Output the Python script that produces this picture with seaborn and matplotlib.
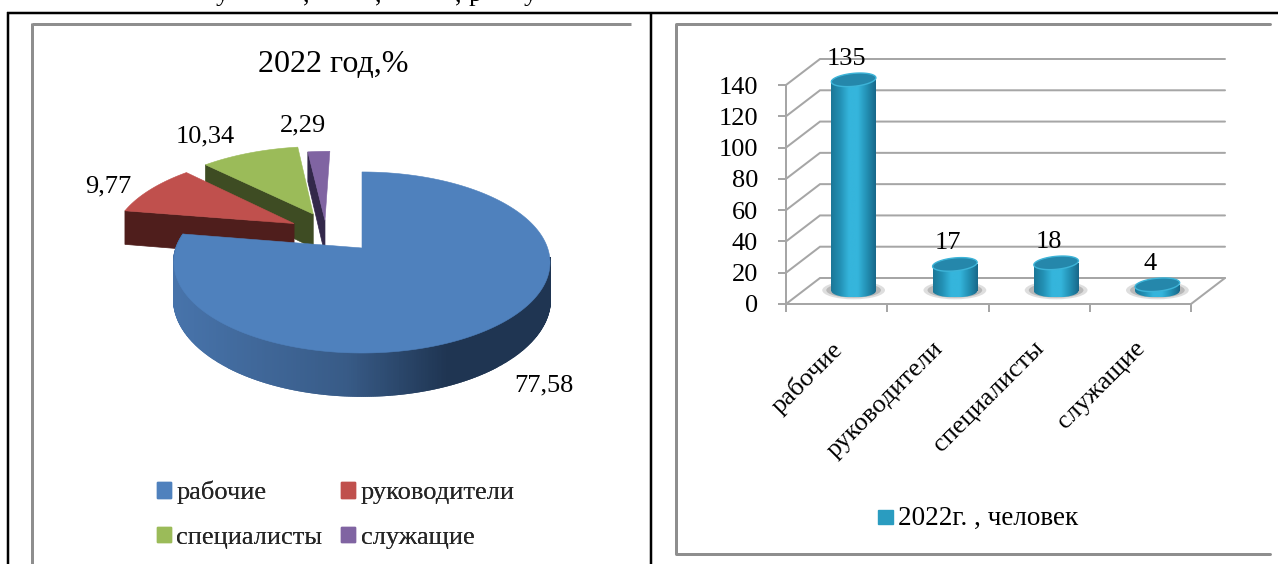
import numpy as np
import pandas as pd
import matplotlib
matplotlib.use("Agg")
import matplotlib.pyplot as plt
from matplotlib.colors import LinearSegmentedColormap
from matplotlib.patches import Ellipse, Rectangle
from matplotlib.transforms import ScaledTranslation
import seaborn as sns

# ---- data ----
categories = ["рабочие", "руководители", "специалисты", "служащие"]
share_pct = [77.58, 9.77, 10.34, 2.29]
share_labels = ["77,58", "9,77", "10,34", "2,29"]
headcount = [135, 17, 18, 4]
y_ticks = [0, 20, 40, 60, 80, 100, 120, 140]
pie_title = "2022 год,%"
bar_legend = "2022г. , человек"

# ---- style ----
sns.set_theme(style="white")
plt.rcParams["font.family"] = ["Liberation Serif", "DejaVu Serif"]
W, H = 1278, 564
fig = plt.figure(figsize=(W / 100, H / 100), dpi=100, facecolor="white")
px = 0.72  # points per pixel


def rect(x0, x1, ytop, ybot):
    return [x0 / W, 1 - ybot / H, (x1 - x0) / W, (ybot - ytop) / H]


canvas = fig.add_axes([0, 0, 1, 1], zorder=0)
canvas.set_xlim(0, W)
canvas.set_ylim(H, 0)
canvas.set_axis_off()

# ---- page frames ----
BLACK_LW, FRAME_LW = 2.5 * px, 3 * px
FRAME = "#8E8E8E"
canvas.plot([7, W], [12.5, 12.5], color="black", lw=BLACK_LW, solid_capstyle="butt")
canvas.plot([7.5, 7.5], [12, H], color="black", lw=BLACK_LW, solid_capstyle="butt")
canvas.plot([651, 651], [12, H], color="black", lw=BLACK_LW, solid_capstyle="butt")
canvas.plot([32, 631], [24, 24], color=FRAME, lw=FRAME_LW, solid_capstyle="butt")
canvas.plot([32, 32], [23, H], color=FRAME, lw=FRAME_LW, solid_capstyle="butt")
canvas.plot([1270, 676, 676, 1270], [24, 24, 554, 554], color=FRAME, lw=FRAME_LW)
# clipped line of the page text above the table
for x, ch in [(222, "у"), (306, ","), (378, ","), (458, ","), (475, "р"), (530, "у")]:
    canvas.text(x, 1, ch, fontsize=19, ha="center", va="baseline", color="black", clip_on=True)

# ---- exploded 3-D pie, projected from the values ----
CX, CY, A, B, K, D = 362, 248, 185.6, 88.2, 0.16, 36
pie_top = ["#4F81BD", "#C0504D", "#9BBB59", "#8064A2"]
pie_wall = [None, "#4F1E1C", "#3E4C23", "#33284A"]
explode = [(0, 0), (-0.383, 0.29), (-0.28, 0.41), (-0.21, 0.33)]
wall_cmap = LinearSegmentedColormap.from_list(
    "w", [(0, "#4773AA"), (0.45, "#385B87"), (0.72, "#1F3552"), (1, "#1F3552")]
)


def project(u, v, depth=0.0):
    s = 1 / (1 + K * v)
    return CX + A * u * s, CY - B * v * s + depth * D * s


fracs = np.array(share_pct) / np.sum(share_pct) * 2 * np.pi
starts = np.concatenate([[0], np.cumsum(fracs)[:-1]])

for i in [3, 2, 1, 0]:
    t0, t1 = starts[i], starts[i] + fracs[i]
    du, dv = explode[i]
    t = np.linspace(t0, t1, max(int(np.degrees(t1 - t0)) * 2, 8))
    u, v = np.sin(t) + du, np.cos(t) + dv
    if i == 0:
        for a, b, c, d in zip(u[:-1], v[:-1], u[1:], v[1:]):
            if b > 0.25 or (a > 0 and b > -0.1):
                continue
            xa, ya = project(a, b)
            xb, yb = project(c, d)
            xc, yc = project(c, d, 1)
            xd, yd = project(a, b, 1)
            col = wall_cmap((0.5 * (xa + xb) - 176) / 376)
            canvas.fill([xa, xb, xc, xd], [ya, yb, yc, yd], color=col, lw=1.4, zorder=3)
    else:
        p = [project(du, dv), project(u[0], v[0]), project(u[0], v[0], 1), project(du, dv, 1)]
        canvas.fill(*zip(*p), color=pie_wall[i], lw=0.5, zorder=3)
    xs, ys = project(np.r_[du, u], np.r_[dv, v])
    canvas.fill(xs, ys, color=pie_top[i], lw=0.4, zorder=3)

canvas.text(333, 65, pie_title, fontsize=23, ha="center", va="center", color="black")
for (x, y), s in zip([(544, 385), (108, 186), (205, 136), (303, 125)], share_labels):
    canvas.text(x, y, s, fontsize=19, ha="center", va="center", color="black")

h_pie = [Rectangle((0, 0), 1, 1, color=pie_top[i]) for i in [0, 2, 1, 3]]
leg = canvas.legend(
    h_pie, [categories[i] for i in [0, 2, 1, 3]], ncol=2, frameon=False, fontsize=19,
    loc="upper left", bbox_to_anchor=(157, 481), bbox_transform=canvas.transData,
    borderaxespad=0, borderpad=0, handlelength=0.53, handleheight=0.52,
    handletextpad=0.2, labelspacing=0.85, columnspacing=0.72,
)
canvas.add_artist(leg)

# ---- bar chart: back walls ----
GRID = "#A6A6A6"
F_X0, F_X1, F_Y0, F_Y140 = 786, 1191, 304, 85
DX, DY = 34, 26
ppu = (F_Y0 - F_Y140) / max(y_ticks)
for val in y_ticks:
    yf = F_Y0 - val * ppu
    canvas.plot([F_X0, F_X0 + DX, F_X1 + DX], [yf, yf - DY, yf - DY], color=GRID, lw=2 * px,
                solid_joinstyle="miter", zorder=1)
canvas.plot([F_X1, F_X1 + DX], [F_Y0, F_Y0 - DY], color=GRID, lw=2 * px, zorder=1)

# front plane with the axes
front = fig.add_axes(rect(F_X0, F_X1, F_Y140, F_Y0), zorder=1)
front.patch.set_alpha(0)
front.set_xlim(-0.5, 3.5)
front.set_ylim(0, max(y_ticks))
for s in ["top", "right"]:
    front.spines[s].set_visible(False)
for s in ["left", "bottom"]:
    front.spines[s].set_color(GRID)
    front.spines[s].set_linewidth(2 * px)
front.set_yticks(y_ticks)
front.set_yticklabels([str(v) for v in y_ticks], fontsize=19, color="black")
front.set_xticks(np.arange(-0.5, 4, 1))
front.set_xticklabels([])
front.set_xticks(np.arange(4), minor=True)
front.set_xticklabels(categories, minor=True, fontsize=19, color="black", rotation=45,
                      ha="right", va="top", rotation_mode="anchor")
front.tick_params(axis="both", which="major", length=6, width=2 * px, color=GRID, left=True,
                  bottom=True)
front.tick_params(axis="y", which="major", pad=14)
front.tick_params(axis="x", which="minor", length=0, pad=24)
shift = ScaledTranslation(-6 / 100, 0, fig.dpi_scale_trans)
for lab in front.get_xticklabels(minor=True):
    lab.set_transform(lab.get_transform() + shift)

# cylinders in the middle plane
bars_ax = fig.add_axes(rect(F_X0 + 17, F_X1 + 17, F_Y140 - 13, F_Y0 - 13), zorder=2)
df = pd.DataFrame({"category": categories, "people": headcount})
sns.barplot(data=df, x="category", y="people", width=0.44, color="#2A9CC0", saturation=1, ax=bars_ax)
bars_ax.set_xlim(-0.5, 3.5)
bars_ax.set_ylim(0, max(y_ticks))
cyl = LinearSegmentedColormap.from_list(
    "c", ["#1B7797", "#2390B4", "#35B5DC", "#35B5DC", "#2390B4", "#18688A"]
)
grad = np.linspace(0, 1, 128).reshape(1, -1)
e_h = 13 / ppu
tilt = 4 / ppu
phi = np.linspace(0, 2 * np.pi, 90)
for bar, val in zip(bars_ax.containers[0], headcount):
    x0, w = bar.get_x(), bar.get_width()
    xc = x0 + w / 2
    bar.set_alpha(0)
    for wd, ht, al in [(0.62, 1.4 * e_h, 0.25), (0.54, 1.15 * e_h, 0.4)]:
        bars_ax.add_patch(Ellipse((xc, 0.5), wd, ht, color="#7F7F7F", alpha=al, lw=0, clip_on=False, zorder=1))
    body = Rectangle((x0, 0), w, val, transform=bars_ax.transData)
    base = Ellipse((xc, 0), w, e_h, transform=bars_ax.transData)
    for clip, (y0, y1) in [(body, (0, val)), (base, (-e_h / 2, 0))]:
        im = bars_ax.imshow(grad, cmap=cyl, extent=(x0, x0 + w, y0, y1), aspect="auto", zorder=2)
        im.set_clip_box(fig.bbox)
        im.set_clip_path(clip)
    ex = xc + w / 2 * np.cos(phi)
    ey = val + e_h / 2 * np.sin(phi) + tilt * np.cos(phi) / 2
    bars_ax.fill(ex, ey, facecolor="#2587AB", edgecolor="#3DB4D8", lw=1, clip_on=False, zorder=3)
    bars_ax.annotate(str(val), (xc, val), xytext=(-7 * px, 21 * px), textcoords="offset points",
                     ha="center", va="center", fontsize=19, color="black", annotation_clip=False, zorder=4)
bars_ax.set_xlim(-0.5, 3.5)
bars_ax.set_ylim(0, max(y_ticks))
bars_ax.set_axis_off()

canvas.add_patch(Rectangle((877.5, 510), 15.5, 14, color="#2A9CC0", zorder=3))
canvas.text(898, 518, bar_legend, fontsize=19.5, ha="left", va="center", color="black")

fig.savefig("out.png", dpi=100, facecolor="white")
